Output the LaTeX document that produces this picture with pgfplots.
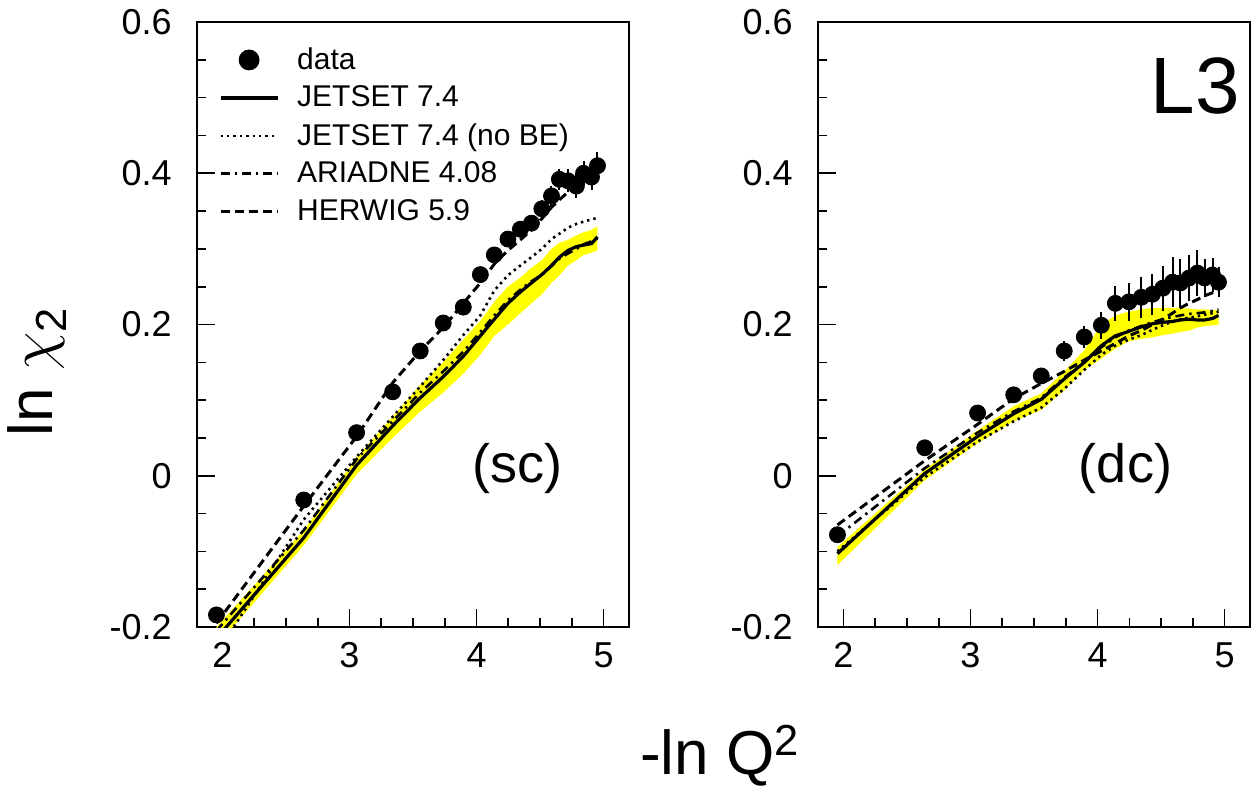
\documentclass[border=0pt]{standalone}
\usepackage{fontspec}
\setmainfont{Liberation Sans}
\usepackage{graphicx}
\usepackage{pgfplots}
\pgfplotsset{compat=1.18}
\usepackage{pgfplotstable}
\usepgfplotslibrary{fillbetween}

\definecolor{bandyellow}{RGB}{255,255,0}

% (sc) panel
\pgfplotstableread{
x      data    err    jet     nobe    ari     her     lo      hi
1.953 -0.184  0.004  -0.215  -0.235  -0.205  -0.195  -0.225  -0.200
2.640 -0.032  0.005  -0.082  -0.058  -0.072  -0.040  -0.092  -0.072
3.056  0.057  0.005   0.014   0.025   0.022   0.052   0.002   0.024
3.340  0.111  0.006   0.066   0.078   0.072   0.123   0.050   0.078
3.557  0.165  0.006   0.103   0.118   0.110   0.165   0.085   0.120
3.738  0.202  0.007   0.131   0.153   0.138   0.196   0.110   0.150
3.896  0.223  0.008   0.158   0.186   0.164   0.228   0.135   0.180
4.030  0.266  0.008   0.185   0.212   0.190   0.255   0.160   0.205
4.140  0.292  0.009   0.207   0.245   0.212   0.280   0.185   0.230
4.247  0.313  0.010   0.228   0.265   0.232   0.298   0.200   0.250
4.345  0.326  0.010   0.243   0.278   0.246   0.312   0.215   0.262
4.432  0.334  0.011   0.255   0.289   0.257   0.325   0.228   0.275
4.514  0.353  0.012   0.266   0.300   0.266   0.340   0.240   0.285
4.590  0.370  0.013   0.278   0.313   0.277   0.355   0.255   0.300
4.652  0.392  0.014   0.289   0.320   0.287   0.365   0.265   0.308
4.720  0.390  0.015   0.298   0.328   0.294   0.375   0.278   0.312
4.786  0.383  0.016   0.303   0.333   0.300   0.383   0.285   0.318
4.842  0.400  0.016   0.305   0.336   0.306   0.390   0.292   0.322
4.905  0.395  0.017   0.307   0.339   0.310   0.396   0.295   0.325
4.952  0.410  0.018   0.316   0.341   0.314   0.402   0.298   0.330
}\tabsc

% (dc) panel
\pgfplotstableread{
x      data    err    jet     nobe    ari     her     lo      hi
1.953 -0.078  0.006  -0.103  -0.100  -0.080  -0.065  -0.118  -0.094
2.640  0.037  0.006   0.003  -0.002   0.010   0.020  -0.006   0.008
3.056  0.083  0.007   0.052   0.045   0.057   0.068   0.043   0.060
3.340  0.107  0.008   0.082   0.072   0.085   0.102   0.072   0.092
3.557  0.132  0.009   0.101   0.090   0.103   0.122   0.087   0.109
3.738  0.165  0.013   0.128   0.115   0.130   0.138   0.113   0.138
3.896  0.1835 0.015   0.150   0.140   0.150   0.153   0.140   0.166
4.030  0.199  0.018   0.172   0.160   0.170   0.165   0.155   0.200
4.140  0.228  0.023   0.185   0.172   0.183   0.175   0.168   0.212
4.247  0.230  0.025   0.191   0.180   0.192   0.185   0.178   0.217
4.345  0.236  0.027   0.197   0.186   0.198   0.192   0.181   0.220
4.432  0.240  0.027   0.201   0.193   0.203   0.200   0.183   0.222
4.514  0.248  0.030   0.203   0.199   0.207   0.207   0.186   0.222
4.590  0.256  0.033   0.204   0.204   0.210   0.215   0.188   0.222
4.652  0.255  0.032   0.206   0.207   0.212   0.222   0.190   0.222
4.720  0.2615 0.030   0.207   0.209   0.214   0.228   0.192   0.221
4.786  0.268  0.030   0.206   0.211   0.215   0.233   0.196   0.220
4.842  0.2615 0.025   0.206   0.213   0.216   0.238   0.198   0.220
4.905  0.2655 0.022   0.208   0.215   0.218   0.242   0.199   0.219
4.952  0.256  0.020   0.212   0.217   0.220   0.245   0.200   0.219
}\tabdc

\pgfplotsset{
  panel/.style={
    scale only axis, width=216pt, height=302.5pt,
    xmin=1.8, xmax=5.2, ymin=-0.2, ymax=0.6,
    xtick={2,3,4,5}, ytick={-0.2,0,0.2,0.4,0.6},
    minor x tick num=3, minor y tick num=3,
    tick align=inside, xtick pos=left, ytick pos=left,
    major tick length=9pt, minor tick length=4.5pt,
    axis line style={line width=0.8pt},
    tick style={black, line width=0.8pt},
    ticklabel style={font=\fontsize{18}{18}\selectfont},
    /pgf/number format/assume math mode=true,
    xticklabel style={inner sep=0pt, yshift=-7.5pt},
    yticklabel style={inner sep=0pt, xshift=-12.5pt},
    legend image code/.code={\draw[#1] (0pt,0pt) -- (28.5pt,0pt);},
  },
  jet/.style={black, line width=1.6pt},
  nobe/.style={black, line width=1.3pt, dash pattern=on 1.2pt off 2pt},
  ari/.style={black, line width=1.3pt, dash pattern=on 4.5pt off 2.5pt on 1.2pt off 2.5pt},
  her/.style={black, line width=1.5pt, dash pattern=on 4.5pt off 2.5pt},
  dat/.style={only marks, mark=*, mark size=4pt, black,
    error bars/.cd, y dir=both, y explicit, error mark=none,
    error bar style={line width=1pt, solid}},
}

\begin{document}
\begin{tikzpicture}

\begin{axis}[panel,
  legend style={draw=none, fill=none, at={(rel axis cs:0.05,0.965)}, anchor=north west,
    inner sep=0pt, row sep=2.8pt, column sep=7pt,
    font=\fontsize{15}{18}\selectfont},
  legend cell align=left]
  \addlegendimage{legend image code/.code={\fill[black] (14.25pt,0pt) circle (5pt);}}
  \addlegendentry{data}
  \addplot[name path=lo, draw=none, forget plot] table[x=x, y=lo] {\tabsc};
  \addplot[name path=hi, draw=none, forget plot] table[x=x, y=hi] {\tabsc};
  \addplot[bandyellow, forget plot] fill between[of=lo and hi];
  \addplot[jet] table[x=x, y=jet] {\tabsc};
  \addlegendentry{JETSET 7.4}
  \addplot[nobe] table[x=x, y=nobe] {\tabsc};
  \addlegendentry{JETSET 7.4 (no BE)}
  \addplot[ari] table[x=x, y=ari] {\tabsc};
  \addlegendentry{ARIADNE 4.08}
  \addplot[her] table[x=x, y=her] {\tabsc};
  \addlegendentry{HERWIG 5.9}
  \addplot[forget plot, dat] table[x=x, y=data, y error=err] {\tabsc};
  \node[font=\fontsize{27}{27}\selectfont] at (axis cs:4.32,0.01) {(sc)};
\end{axis}

\begin{axis}[panel, at={(310.5pt,0pt)}, anchor=south west]
  \addplot[name path=lo, draw=none] table[x=x, y=lo] {\tabdc};
  \addplot[name path=hi, draw=none] table[x=x, y=hi] {\tabdc};
  \addplot[bandyellow] fill between[of=lo and hi];
  \addplot[jet] table[x=x, y=jet] {\tabdc};
  \addplot[nobe] table[x=x, y=nobe] {\tabdc};
  \addplot[ari] table[x=x, y=ari] {\tabdc};
  \addplot[her] table[x=x, y=her] {\tabdc};
  \addplot[dat] table[x=x, y=data, y error=err] {\tabdc};
  \node[font=\fontsize{27}{27}\selectfont] at (axis cs:4.22,0.01) {(dc)};
  \node[font=\fontsize{40}{40}\selectfont] at (axis cs:4.77,0.515) {L3};
\end{axis}

\node[anchor=base, font=\fontsize{31}{31}\selectfont] at (261.5pt,-73.5pt) {-ln Q\textsuperscript{2}};
\node[rotate=90, anchor=base, font=\fontsize{31}{31}\selectfont] at (-72pt,127.5pt) {ln \scalebox{1.25}{$\chi$}\textsubscript{2}};

\pgfresetboundingbox
\path (-98.5pt,-80.5pt) rectangle (529.5pt,313.5pt);
\end{tikzpicture}
\end{document}
